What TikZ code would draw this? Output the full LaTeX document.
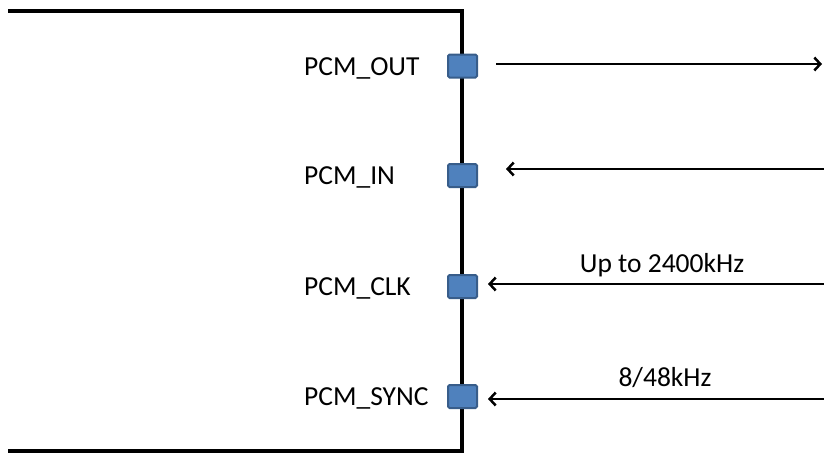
\documentclass[tikz,border=0pt]{standalone}
\usepackage{fontspec}
\setmainfont{Carlito}
\usetikzlibrary{arrows.meta}
\definecolor{pinfill}{HTML}{4F81BD}
\definecolor{pinedge}{HTML}{385D8A}
\begin{document}
\begin{tikzpicture}[x=1pt,y=-1pt,
	pinbox/.style={draw=pinedge,fill=pinfill,line width=2pt,rounded corners=1.5pt,
		minimum width=29pt,minimum height=23pt,inner sep=0pt},
	sig/.style={line width=2.5pt,-{Straight Barb[length=6pt,width=13pt,line width=2.5pt]}},
	lbl/.style={inner sep=0pt,font=\fontsize{27.5}{33}\selectfont}]
	\useasboundingbox (0,0) rectangle (824,453);
	\def\bx{462}
	% chip outline, open to the left
	\draw[line width=4.3pt] (8,11) -- (\bx,11) -- (\bx,451) -- (8,451);
	% pins and their names
	\foreach \nm/\txt/\py in {out/PCM\_OUT/66, in/PCM\_IN/175.5, clk/PCM\_CLK/286.5, sync/PCM\_SYNC/396.5} {
		\node[pinbox] (p\nm) at (\bx+0.5,\py) {};
		\node[lbl,anchor=base west] (n\nm) at (304,\py+9) {\txt};
	}
	% free ends at the right
	\coordinate (eout) at (822,64);
	\coordinate (ein) at (824,169);
	\coordinate (eclk) at (824,284);
	\coordinate (esync) at (824,399);
	\draw[sig,shorten <=18pt] (pout.east |- eout) -- (eout);
	\draw[sig,shorten >=28pt] (ein) -- (pin.east |- ein);
	\draw[sig,shorten >=10pt] (eclk) -- (pclk.east |- eclk);
	\draw[sig,shorten >=10pt] (esync) -- (psync.east |- esync);
	\node[lbl,anchor=base] (fclk) at (662,272) {Up to 2400kHz};
	\node[lbl,anchor=base] (fsync) at (665,386) {8/48kHz};
\end{tikzpicture}
\end{document}
